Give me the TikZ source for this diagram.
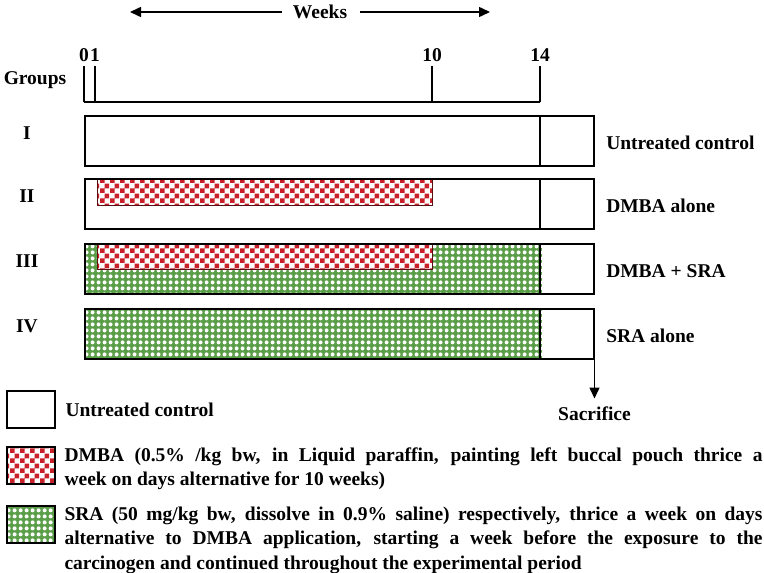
\documentclass[tikz,border=0pt]{standalone}
\usepackage{fontspec}
\setmainfont{Liberation Serif}
\usetikzlibrary{arrows.meta,positioning,patterns}
\definecolor{dmbared}{HTML}{C8212A}
\definecolor{sragreen}{HTML}{5A9E48}
\pgfdeclarepatternformonly{dmbachecks}{\pgfqpoint{0pt}{0pt}}{\pgfqpoint{10pt}{10pt}}{\pgfqpoint{10pt}{10pt}}{%
  \pgfpathrectangle{\pgfqpoint{0pt}{0pt}}{\pgfqpoint{5pt}{5pt}}%
  \pgfpathrectangle{\pgfqpoint{5pt}{5pt}}{\pgfqpoint{5pt}{5pt}}%
  \pgfusepath{fill}}
\pgfdeclarepatternformonly{sradots}{\pgfqpoint{0pt}{0pt}}{\pgfqpoint{6pt}{6pt}}{\pgfqpoint{6pt}{6pt}}{%
  \pgfpathcircle{\pgfqpoint{3pt}{3pt}}{2.3pt}%
  \pgfusepath{fill}}

\begin{document}
\begin{tikzpicture}[x=1pt,y=-1pt,line width=1.5pt,
  txt/.style={font=\bfseries\fontsize{19.5}{24.5}\selectfont,inner sep=0pt},
  grp/.style={draw,minimum width=509pt,minimum height=50pt,anchor=north west,inner sep=0pt},
  dmba/.style={preaction={fill=white},draw=black!55!dmbared,line width=1pt,pattern=dmbachecks,pattern color=dmbared,anchor=north west,inner sep=0pt,minimum width=335pt},
  sra/.style={preaction={fill=sragreen},pattern=sradots,pattern color=white},
  srabar/.style={sra,anchor=north west,inner sep=0pt,minimum width=457pt,minimum height=50pt},
  key/.style={draw,line width=1.8pt,minimum width=48pt,minimum height=37pt,anchor=north west,inner sep=0pt},
  note/.style={txt,text width=698pt,align=justify,anchor=north west},
  arr/.style={-{Triangle[length=11pt,width=10pt]}}
]
\useasboundingbox (0,0) rectangle (764,573);

\node[txt] (weeks) at (320,12) {Weeks};
\coordinate (wl) at ([xshift=-190pt]weeks.center);
\coordinate (wr) at ([xshift=170pt]weeks.center);
\draw[arr] ([xshift=-10pt]weeks.west) -- (wl);
\draw[arr] ([xshift=12pt]weeks.east) -- (wr);

\node[txt] (groups) at (35,80) {Groups};
\foreach \wk/\xx in {0/84,1/95,10/432,14/540} {
  \node[txt] (w\wk) at (\xx,55) {\wk};
  \coordinate (u\wk) at (\xx,66);
  \coordinate (t\wk) at (\xx,102);
  \draw (u\wk) -- (t\wk);
}
\draw (t0) -- (t14);

\foreach \g/\yy in {1/115,2/178,3/243,4/308}
  \coordinate (r\g) at (84,\yy);
\node[srabar] (s3) at (r3) {};
\node[srabar] (s4) at (r4) {};
\node[dmba,minimum height=27pt] (d2) at (97,178) {};
\node[dmba,minimum height=26pt] (d3) at (97,243) {};
\foreach \g/\rn/\what in {1/I/Untreated control,2/II/DMBA alone,3/III/DMBA + SRA,4/IV/SRA alone} {
  \node[grp] (g\g) at (r\g) {};
  \draw (g\g.north west -| t14) -- (g\g.south west -| t14);
  \node[txt] (n\g) at ([xshift=-57pt,yshift=-18pt]r\g) {\rn};
  \node[txt,anchor=west] (c\g) at ([xshift=11pt,yshift=-2pt]g\g.east) {\what};
}
\node[txt,below=47pt of g4.south east] (sac) {Sacrifice};
\draw[arr,shorten >=8pt] (g4.south east) -- (sac.north);

\node[key] (k1) at (6,390) {};
\node[key,preaction={fill=white},pattern=dmbachecks,pattern color=dmbared] (k2) at (6,446) {};
\node[key,sra] (k3) at (6,505) {};
\node[txt,anchor=west] (l1) at ([xshift=9pt]k1.east) {Untreated control};
\node[note] (l2) at ([xshift=8pt,yshift=-1pt]k2.north east) {DMBA (0.5\% /kg bw, in Liquid paraffin, painting left buccal pouch thrice a\linebreak week on days alternative for 10 weeks)};
\node[note] (l3) at ([xshift=8pt,yshift=-1pt]k3.north east) {SRA (50 mg/kg bw, dissolve in 0.9\% saline) respectively, thrice a week on days\linebreak alternative to DMBA application, starting a week before the exposure to the\linebreak carcinogen and continued throughout the experimental period};
\end{tikzpicture}
\end{document}
